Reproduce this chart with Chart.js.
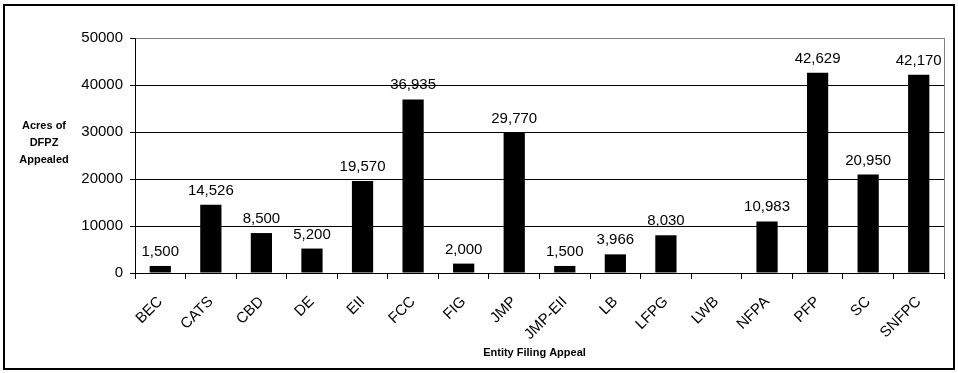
<!DOCTYPE html>
<html>
<head>
<meta charset="utf-8">
<script src="https://cdn.jsdelivr.net/npm/chart.js@4/dist/chart.umd.min.js"></script>
<style>
html,body{margin:0;padding:0;background:#fff;}
canvas{display:block;}
</style>
</head>
<body>
<canvas id="c" width="958" height="373"></canvas>
<script>
const categories = ["BEC","CATS","CBD","DE","EII","FCC","FIG","JMP","JMP-EII","LB","LFPG","LWB","NFPA","PFP","SC","SNFPC"];
const acres = [1500,14526,8500,5200,19570,36935,2000,29770,1500,3966,8030,null,10983,42629,20950,42170];
const yTitleLines = ["Acres of","DFPZ","Appealed"];
const xTitle = "Entity Filing Appeal";
const yTicks = {min:0, max:50000, step:10000};

const FONT = "'Liberation Sans', Arial, sans-serif";

const decor = {
  id:'decor',
  afterDatasetsDraw(chart){
    const ctx = chart.ctx;
    const meta = chart.getDatasetMeta(0);
    ctx.save();
    ctx.fillStyle = '#000';
    ctx.font = '15px ' + FONT;
    ctx.textAlign = 'center';
    ctx.textBaseline = 'alphabetic';
    meta.data.forEach((bar,i)=>{
      const v = acres[i];
      if (v === null || v === undefined) return;
      ctx.fillText(v.toLocaleString('en-US'), bar.x, bar.y - 10);
    });
    ctx.restore();
  },
  afterDraw(chart){
    const ctx = chart.ctx;
    const a = chart.chartArea;
    ctx.save();
    ctx.strokeStyle = '#808080';
    ctx.lineWidth = 1;
    ctx.beginPath();
    ctx.moveTo(Math.round(a.right)+0.5, a.top);
    ctx.lineTo(Math.round(a.right)+0.5, a.bottom);
    ctx.stroke();
    ctx.fillStyle = '#000';
    ctx.font = 'bold 11px ' + FONT;
    ctx.textAlign = 'center';
    ctx.textBaseline = 'middle';
    yTitleLines.forEach((t,i)=>ctx.fillText(t, 44, 126 + i*17));
    ctx.fillText(xTitle, (a.left + a.right)/2 - 5, 353);
    ctx.strokeStyle = '#000';
    ctx.lineWidth = 2;
    ctx.strokeRect(4, 5, 950, 364);
    ctx.restore();
  }
};

new Chart(document.getElementById('c'), {
  type:'bar',
  data:{
    labels: categories,
    datasets:[{
      data: acres,
      backgroundColor:'#000',
      borderWidth:0,
      barPercentage:0.42,
      categoryPercentage:1
    }]
  },
  options:{
    responsive:false,
    animation:false,
    devicePixelRatio:1,
    layout:{padding:{top:38,right:14,bottom:0,left:0}},
    plugins:{legend:{display:false},tooltip:{enabled:false}},
    scales:{
      x:{
        afterFit(s){ s.height = 100; },
        grid:{display:true, drawOnChartArea:false, color:'#000', tickLength:6, offset:true},
        border:{color:'#000', width:1},
        ticks:{color:'#000', font:{family:FONT, size:15}, minRotation:45, maxRotation:45, padding:14, autoSkip:false}
      },
      y:{
        min:yTicks.min, max:yTicks.max,
        afterFit(s){ s.width = 135; },
        grid:{
          color:(c)=> c.tick && c.tick.value === yTicks.max ? '#808080' : '#000',
          tickColor:'#000',
          tickLength:5
        },
        border:{color:'#000', width:1},
        ticks:{stepSize:yTicks.step, color:'#000', font:{family:FONT, size:15}, padding:7,
               callback:(v)=>String(v)}
      }
    }
  },
  plugins:[decor]
});
</script>
</body>
</html>
